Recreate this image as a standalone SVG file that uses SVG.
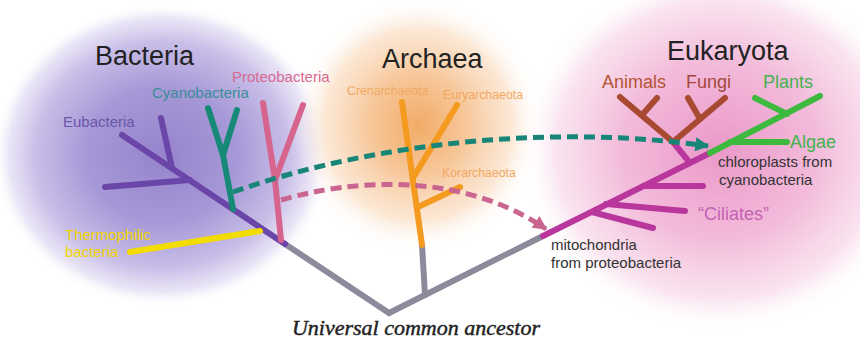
<svg xmlns="http://www.w3.org/2000/svg" width="860" height="347" viewBox="0 0 860 347">
<defs>
<radialGradient id="gBac" cx="0.5" cy="0.5" r="0.5">
<stop offset="0" stop-color="#9583cc"/>
<stop offset="0.45" stop-color="#a799d7"/>
<stop offset="0.75" stop-color="#c9bfe8"/>
<stop offset="0.9" stop-color="#e4def3" stop-opacity="0.8"/>
<stop offset="1" stop-color="#ffffff" stop-opacity="0"/>
</radialGradient>
<radialGradient id="gArc" cx="0.5" cy="0.5" r="0.5">
<stop offset="0" stop-color="#f2ab66"/>
<stop offset="0.4" stop-color="#f7c89c"/>
<stop offset="0.75" stop-color="#fbe2cb" stop-opacity="0.8"/>
<stop offset="1" stop-color="#ffffff" stop-opacity="0"/>
</radialGradient>
<radialGradient id="gEuk" cx="0.5" cy="0.5" r="0.5">
<stop offset="0" stop-color="#eb98c8"/>
<stop offset="0.5" stop-color="#f3bcdb"/>
<stop offset="0.82" stop-color="#f9dfed" stop-opacity="0.85"/>
<stop offset="1" stop-color="#ffffff" stop-opacity="0"/>
</radialGradient>
<marker id="arrT" viewBox="0 0 10 10" refX="9" refY="5" markerWidth="18" markerHeight="14" markerUnits="userSpaceOnUse" orient="auto">
<path d="M0,0 L10,5 L0,10 Z" fill="#178578"/>
</marker>
<marker id="arrP" viewBox="0 0 10 10" refX="9" refY="5" markerWidth="18" markerHeight="14" markerUnits="userSpaceOnUse" orient="auto">
<path d="M0,0 L10,5 L0,10 Z" fill="#c9658f"/>
</marker>
</defs>
<style>
.ln{fill:none;stroke-width:6;stroke-linecap:round}
.gray{stroke:#8b8b9c}
.pur{stroke:#6a46a8}
.teal{stroke:#168a76}
.pink{stroke:#d6648c}
.yel{stroke:#f3dc00}
.org{stroke:#f39a1f}
.mag{stroke:#b9369d}
.brn{stroke:#a84a32}
.grn{stroke:#3dba3d}
.dash{fill:none;stroke-width:5;stroke-dasharray:11 6}
.big{font-family:"Liberation Sans",Arial,sans-serif;font-size:27px;fill:#222}
.sm{font-family:"Liberation Sans",Arial,sans-serif;font-size:15px}
.xs{font-family:"Liberation Sans",Arial,sans-serif;font-size:12.3px;fill:#f0a862}
.md{font-family:"Liberation Sans",Arial,sans-serif;font-size:18px}
.note{font-family:"Liberation Sans",Arial,sans-serif;font-size:15px;fill:#333}
</style>
<rect width="860" height="347" fill="#ffffff"/>
<g id="backgrounds">
<ellipse cx="162" cy="155" rx="170" ry="152" fill="url(#gBac)"/>
<ellipse cx="418" cy="125" rx="125" ry="128" fill="url(#gArc)"/>
<ellipse cx="720" cy="150" rx="200" ry="182" fill="url(#gEuk)"/>
</g>
<g id="root">
<line class="ln gray" x1="285" y1="244" x2="389" y2="313"/>
<line class="ln gray" x1="389" y1="313" x2="543" y2="236"/>
<line class="ln gray" x1="425" y1="295" x2="422" y2="245"/>
<text x="416" y="335" text-anchor="middle" font-family="Liberation Serif,Times New Roman,serif" font-style="italic" font-size="22" fill="#222" stroke="#222" stroke-width="0.45">Universal common ancestor</text>
</g>
<g id="bacteria">
<text class="big" x="95" y="65">Bacteria</text>
<line class="ln pur" x1="122" y1="135" x2="285" y2="244"/>
<line class="ln pur" x1="161" y1="118" x2="172" y2="168"/>
<line class="ln pur" x1="105" y1="187" x2="190" y2="180"/>
<text class="sm" x="63" y="127" fill="#6a55aa">Eubacteria</text>
</g>
<g id="cyanobacteria">
<line class="ln teal" x1="208" y1="108" x2="223" y2="155"/>
<line class="ln teal" x1="237" y1="110" x2="223" y2="155"/>
<line class="ln teal" x1="223" y1="155" x2="233" y2="209"/>
<text class="sm" x="152" y="98" fill="#3a8c98">Cyanobacteria</text>
</g>
<g id="proteobacteria">
<line class="ln pink" x1="263" y1="103" x2="275" y2="180"/>
<line class="ln pink" x1="303" y1="105" x2="275" y2="180"/>
<line class="ln pink" x1="275" y1="180" x2="281" y2="240"/>
<text class="sm" x="232" y="82" fill="#d86a92">Proteobacteria</text>
</g>
<g id="thermophilic">
<line class="ln yel" x1="130" y1="252" x2="260" y2="231"/>
<text class="sm" x="65" y="240" fill="#f0d400">Thermophilic</text>
<text class="sm" x="65" y="257" fill="#f0d400">bacteria</text>
</g>
<g id="archaea">
<text class="big" x="382" y="68">Archaea</text>
<line class="ln org" x1="402" y1="102" x2="422" y2="245"/>
<line class="ln org" x1="457" y1="105" x2="413" y2="178"/>
<line class="ln org" x1="460" y1="187" x2="418" y2="207"/>
<text class="xs" x="347" y="95">Crenarchaeota</text>
<text class="xs" x="443" y="99">Euryarchaeota</text>
<text class="xs" x="442" y="177">Korarchaeota</text>
</g>
<g id="eukaryota">
<text class="big" x="667" y="60">Eukaryota</text>
<line class="ln mag" x1="543" y1="236" x2="710" y2="153"/>
<line class="ln mag" x1="644" y1="186" x2="703" y2="186"/>
<line class="ln mag" x1="606" y1="204" x2="685" y2="211"/>
<line class="ln mag" x1="592" y1="212" x2="653" y2="228"/>
<line class="ln mag" x1="690" y1="163" x2="673" y2="142"/>
<text class="md" x="698" y="220" fill="#c462b4">“Ciliates”</text>
<text class="note" x="551" y="250">mitochondria</text>
<text class="note" x="551" y="268">from proteobacteria</text>
</g>
<g id="animals-fungi">
<line class="ln brn" x1="620" y1="97" x2="673" y2="142"/>
<line class="ln brn" x1="657" y1="98" x2="642" y2="115"/>
<line class="ln brn" x1="725" y1="98" x2="673" y2="142"/>
<line class="ln brn" x1="688" y1="98" x2="700" y2="119"/>
<text class="md" x="602" y="88" fill="#b45434">Animals</text>
<text class="md" x="686" y="88" fill="#a44a3c">Fungi</text>
</g>
<g id="plants-algae">
<line class="ln grn" x1="710" y1="153" x2="820" y2="96"/>
<line class="ln grn" x1="755" y1="98" x2="787" y2="114"/>
<line class="ln grn" x1="730" y1="142" x2="787" y2="142"/>
<text class="md" x="763" y="88" fill="#44b24e">Plants</text>
<text class="md" x="790" y="148" fill="#44b24e">Algae</text>
<text class="note" x="718" y="167">chloroplasts from</text>
<text class="note" x="719" y="185">cyanobacteria</text>
</g>
<g id="connectors">
<path class="dash" stroke="#178578" d="M233,192 C380,140 560,125 708,146" marker-end="url(#arrT)"/>
<path class="dash" stroke="#c9658f" d="M281,200 C350,180 460,170 546,229" marker-end="url(#arrP)"/>
</g>
</svg>
